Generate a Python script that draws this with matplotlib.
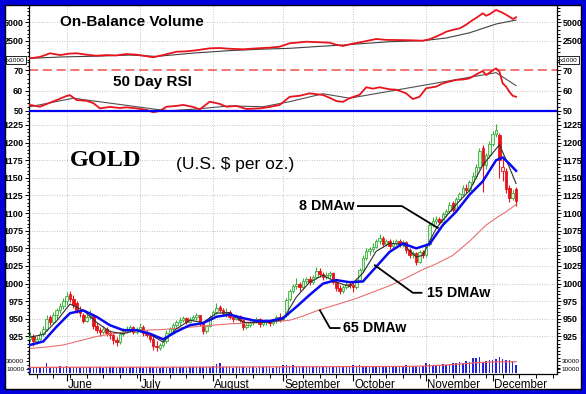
import numpy as np
import matplotlib.pyplot as plt
from matplotlib.patches import Rectangle
from matplotlib.ticker import MultipleLocator
from matplotlib.transforms import blended_transform_factory

W, H = 586, 394
X0, X1 = 29, 557   # left / right frame of the chart, pixels

# ---------------- data (daily bars, mid May - Dec 10) ----------------
opens = [922, 926, 918, 922, 928, 936, 952, 946, 955, 962, 968,
         975, 985, 978, 972, 962, 956, 947, 953, 955, 940, 934, 931, 936, 930, 927, 920, 917, 928, 933, 936, 938, 932,
         935, 939, 930, 927, 922, 912, 909, 913, 918, 930, 935, 941, 945, 948, 951, 946, 950, 952, 955, 944, 933, 940,
         953, 960, 967, 963, 958, 960, 953, 950, 954, 948, 938, 941, 944, 947, 950, 943, 945, 947, 944, 947, 952,
         950, 955, 978, 990, 996, 999, 995, 1004, 1007, 1002, 1009, 1018, 1014, 1010, 1012, 1015, 1003, 994, 990, 995, 999,
         998, 995, 1005, 1019, 1036, 1046, 1049, 1052, 1060, 1065, 1056, 1061, 1053, 1058, 1061, 1055, 1059, 1047, 1040, 1043, 1031, 1045,
         1040, 1056, 1083, 1089, 1092, 1088, 1099, 1103, 1114, 1105, 1120, 1127, 1136, 1133, 1144, 1153, 1166, 1192, 1168, 1182,
         1198, 1212, 1211, 1160, 1160, 1136, 1122, 1134]
highs = [932, 928, 926, 933, 940, 955, 956, 960, 966, 972, 980,
         988, 990, 984, 975, 968, 959, 958, 962, 957, 944, 938, 940, 938, 934, 930, 924, 931, 937, 940, 942, 940, 938,
         944, 941, 934, 929, 925, 918, 916, 921, 934, 938, 944, 948, 952, 954, 953, 953, 955, 958, 956, 946, 942, 956,
         963, 972, 970, 966, 965, 962, 956, 957, 956, 950, 944, 947, 950, 953, 951, 948, 950, 949, 950, 955, 958,
         956, 980, 992, 999, 1008, 1003, 1008, 1010, 1011, 1012, 1024, 1022, 1017, 1016, 1018, 1016, 1006, 998, 998, 1002, 1004,
         1002, 1008, 1022, 1040, 1050, 1052, 1058, 1064, 1071, 1067, 1064, 1063, 1062, 1064, 1063, 1062, 1060, 1050, 1046, 1045, 1048, 1048,
         1058, 1086, 1094, 1096, 1094, 1102, 1106, 1116, 1117, 1123, 1130, 1140, 1142, 1147, 1158, 1170, 1193, 1196, 1185, 1202,
         1216, 1227, 1214, 1178, 1164, 1140, 1133, 1137]
lows = [918, 912, 915, 920, 925, 933, 942, 944, 950, 958, 964,
        970, 974, 966, 958, 952, 944, 945, 950, 936, 930, 926, 928, 926, 922, 914, 911, 915, 925, 930, 932, 928, 929,
        932, 926, 924, 917, 906, 905, 906, 910, 916, 927, 932, 938, 942, 945, 943, 944, 947, 948, 940, 928, 930, 938,
        950, 957, 960, 955, 953, 950, 946, 948, 945, 934, 935, 938, 941, 944, 939, 940, 942, 940, 942, 944, 946,
        947, 953, 975, 986, 993, 990, 993, 1000, 998, 1000, 1006, 1010, 1005, 1006, 1008, 1000, 990, 985, 986, 992, 994,
        988, 992, 1003, 1017, 1033, 1040, 1045, 1050, 1056, 1052, 1053, 1049, 1050, 1055, 1052, 1052, 1044, 1036, 1037, 1026, 1029, 1036,
        1038, 1054, 1080, 1085, 1084, 1086, 1095, 1100, 1101, 1103, 1117, 1124, 1128, 1130, 1141, 1150, 1163, 1130, 1162, 1178,
        1195, 1208, 1150, 1145, 1128, 1116, 1118, 1110]
closes = [926, 918, 922, 928, 935, 950, 946, 955, 962, 968, 975,
          982, 978, 970, 962, 958, 947, 953, 956, 940, 934, 931, 936, 930, 927, 920, 917, 928, 933, 936, 938, 932, 935,
          939, 930, 927, 922, 912, 910, 913, 918, 930, 935, 941, 945, 948, 951, 946, 950, 952, 955, 944, 933, 940, 953,
          960, 966, 963, 958, 960, 953, 950, 954, 948, 938, 941, 944, 947, 950, 943, 945, 947, 944, 947, 952, 950,
          954, 977, 990, 996, 999, 995, 1004, 1007, 1002, 1009, 1018, 1014, 1010, 1012, 1015, 1003, 994, 990, 995, 999, 998,
          995, 1005, 1019, 1036, 1046, 1049, 1052, 1060, 1065, 1056, 1061, 1053, 1058, 1061, 1055, 1059, 1047, 1040, 1043, 1031, 1045, 1040,
          1055, 1083, 1089, 1092, 1088, 1099, 1103, 1112, 1105, 1120, 1127, 1136, 1133, 1144, 1153, 1166, 1188, 1168, 1182, 1198,
          1212, 1218, 1175, 1166, 1134, 1122, 1128, 1117]
# volume in thousands
volume = [14, 15, 13, 16, 15, 24, 16, 14, 15, 17, 16,
          18, 15, 16, 14, 13, 15, 14, 16, 13, 15, 14, 13, 15, 14, 16, 13, 14, 15, 13, 14, 16, 15,
          14, 13, 15, 14, 16, 15, 13, 14, 15, 13, 14, 16, 15, 14, 13, 15, 14, 16, 15, 14, 15, 16,
          17, 23, 24, 16, 15, 14, 13, 15, 14, 15, 13, 14, 15, 13, 14, 16, 15, 14, 13, 15, 16,
          19, 21, 18, 20, 16, 15, 17, 14, 16, 15, 18, 16, 15, 14, 17, 15, 16, 18, 15, 16, 14,
          20, 17, 19, 15, 16, 17, 14, 15, 16, 17, 15, 16, 18, 15, 16, 17, 19, 16, 18, 17, 16, 18,
          24, 22, 20, 19, 21, 23, 20, 22, 25, 24, 27, 26, 30, 28, 38, 37, 39, 28, 30, 33,
          32, 36, 41, 34, 32, 33, 30, 19]

# moving averages (read at selected bars)
ma8_x = [0, 4, 8, 12, 16, 20, 24, 28, 32, 36, 40, 44, 48, 52, 56, 60, 64, 68, 72, 76,
         80, 84, 88, 92, 96, 100, 104, 108, 112, 116, 118, 120, 122, 124, 128, 132, 136, 141, 144, 146]
ma8_y = [924, 928, 947, 971, 962, 945, 932, 929, 934, 928, 917, 936, 948, 945, 958, 959, 945, 945, 945, 949,
         981, 1002, 1012, 1002, 996, 1015, 1046, 1057, 1056, 1038, 1040, 1060, 1078, 1090, 1112, 1132, 1168, 1197, 1165, 1142]
ma15_x = [0, 4, 8, 12, 16, 20, 24, 28, 32, 36, 40, 44, 48, 52, 56, 60, 64, 68, 72, 76,
          80, 84, 88, 92, 96, 100, 104, 108, 112, 116, 120, 124, 128, 132, 136, 140, 142, 144, 146]
ma15_y = [913, 918, 939, 958, 962, 953, 941, 934, 934, 929, 921, 932, 941, 944, 953, 956, 951, 947, 947, 951,
          967, 984, 1000, 1005, 1002, 1003, 1024, 1045, 1057, 1050, 1056, 1083, 1102, 1126, 1145, 1175, 1179, 1170, 1160]
ma65_x = [0, 5, 10, 15, 20, 25, 30, 35, 40, 45, 50, 55, 60, 65, 70, 78, 82, 87, 92, 98,
          103, 108, 113, 118, 122, 127, 132, 137, 140, 143, 146]
ma65_y = [908, 910, 913, 919, 925, 929, 932, 934, 935, 937, 939, 941, 943, 944, 945, 948, 954, 963, 970, 979,
          988, 997, 1008, 1020, 1028, 1040, 1060, 1083, 1093, 1102, 1112]

vol_ma_x = [0, 20, 40, 60, 80, 100, 115, 120, 125, 130, 135, 140, 146]
vol_ma_y = [14, 14.5, 14.5, 15, 15.5, 16, 16.5, 18, 20, 23, 26, 28, 28]

# on-balance volume (x1000) and its average
obv_x = [0, 3, 6, 9, 12, 14, 17, 20, 23, 26, 29, 32, 35, 37, 40, 44, 47, 50, 54, 57,
         60, 64, 68, 72, 75, 78, 80, 83, 86, 90, 92, 94, 96, 100, 104, 107, 110, 114, 118, 120,
         122, 124, 125, 127, 129, 130, 131, 133, 134, 136, 137, 138, 140, 142, 144, 145, 146]
obv_y = [160, 350, 840, 600, 800, 840, 650, 510, 600, 550, 740, 650, 450, 300, 600, 1050, 1100, 1250, 1510, 1550,
         1450, 1380, 1500, 1600, 1730, 2190, 2270, 2400, 2350, 2270, 2000, 1820, 2050, 2400, 2770, 2650, 2630, 2600, 2540, 2730,
         3100, 3500, 3750, 4000, 4200, 4430, 4700, 5330, 5600, 6240, 5910, 6100, 6690, 6300, 5780, 5470, 5700]
obv_ma_x = [0, 10, 20, 30, 38, 50, 60, 70, 78, 88, 94, 100, 108, 118, 125, 132, 140, 146]
obv_ma_y = [160, 350, 450, 600, 420, 900, 1200, 1400, 1510, 1800, 1950, 2150, 2400, 2540, 2900, 3600, 4790, 5330]

# 50 day RSI and its average
rsi_x = [0, 3, 8, 11, 12, 14, 17, 19, 21, 24, 27, 29, 32, 35, 37, 39, 41, 44, 46, 49,
         51, 54, 57, 59, 62, 65, 69, 72, 75, 78, 81, 84, 88, 90, 92, 94, 96, 99, 101, 103,
         105, 108, 110, 113, 115, 117, 119, 122, 124, 126, 128, 130, 132, 134, 136, 137, 139, 140, 141, 142,
         143, 144, 145, 146]
rsi_y = [53, 52.1, 55.4, 57.4, 57.8, 55.4, 55, 53.9, 51.3, 52, 51.5, 51.8, 51.3, 50.5, 49.4, 50, 52.1, 52.5, 53, 52,
         50.8, 54.6, 53.5, 52.1, 52.5, 51, 51.3, 52, 53, 57, 57.5, 58.7, 57.9, 56.5, 54.9, 54.5, 56.3, 58, 61.7, 61,
         61.7, 60.7, 60.5, 58.7, 55.9, 57, 61.2, 62, 63.6, 64.5, 65.3, 65.5, 66.1, 68, 69.7, 67.7, 70, 71, 69.4, 63.6,
         62, 59.5, 57.5, 57]
rsi_ma_x = [0, 13, 38, 42, 50, 60, 70, 78, 88, 96, 140, 146]
rsi_ma_y = [52.1, 56.3, 50.8, 50.1, 51, 52.5, 52.1, 54.6, 58.5, 56.3, 68.9, 62.5]

months = ['June', 'July', 'August', 'September', 'October', 'November', 'December']
month_idx = [11, 33, 55, 76, 97, 119, 139]
price_ticks = list(range(925, 1226, 25))

# ---------------- figure ----------------
plt.rcParams['font.family'] = ['Liberation Sans', 'DejaVu Sans']
fig = plt.figure(figsize=(W / 100, H / 100), dpi=100)


def rect(top, bottom):
    return [X0 / W, 1 - bottom / H, (X1 - X0) / W, (bottom - top) / H]


GRID = dict(color='#b0b0b0', lw=0.6, ls=(0, (1, 2)))


def frame(ax, ticks, labels, size=6.5, grid=True):
    ax.set_facecolor('none')
    ax.set_xlim(-0.3, 158.3)
    for s in ('top', 'bottom'):
        ax.spines[s].set_visible(False)
    for s in ('left', 'right'):
        ax.spines[s].set_linewidth(0.9)
    ax.set_yticks(ticks)
    ax.set_yticklabels(labels, fontweight='bold')
    ax.tick_params(axis='y', which='both', left=True, right=True, labelleft=True,
                   labelright=True, labelsize=size, width=0.7, pad=1.2)
    ax.tick_params(axis='y', which='major', length=3)
    ax.tick_params(axis='y', which='minor', length=1.8)
    ax.tick_params(axis='x', which='both', bottom=False, labelbottom=False)
    if grid:
        for m in month_idx:
            ax.axvline(m, zorder=0, **GRID)


# --- On-Balance Volume ---
ax_o = fig.add_axes(rect(6, 62))
frame(ax_o, [2500, 5000], ['2500', '5000'])
ax_o.set_ylim(-337, 7222)
ax_o.yaxis.set_minor_locator(MultipleLocator(500))
for v in (2500, 5000):
    ax_o.axhline(v, zorder=0, **GRID)
ax_o.plot(obv_ma_x, obv_ma_y, color='#404040', lw=0.8, zorder=3)
ax_o.plot(obv_x, obv_y, color='#e8141c', lw=1.3, zorder=4)

# --- RSI ---
ax_r = fig.add_axes(rect(62, 114))
frame(ax_r, [50, 60, 70], ['50', '60', '70'])
ax_r.set_ylim(48.52, 74.14)
ax_r.yaxis.set_minor_locator(MultipleLocator(2))
ax_r.axhline(60, zorder=0, **GRID)
ax_r.axhline(70, color='#f05050', lw=1.1, ls=(0, (6, 3)), zorder=1)
ax_r.axhline(50, color='#0000ee', lw=1.6, zorder=5)
ax_r.plot(rsi_ma_x, rsi_ma_y, color='#505050', lw=0.8, zorder=3)
ax_r.plot(rsi_x, rsi_y, color='#e8141c', lw=1.3, zorder=4)

# --- Price ---
ax_p = fig.add_axes(rect(114, 374))
frame(ax_p, price_ticks, [str(t) for t in price_ticks])
ax_p.set_ylim(871.8, 1240.6)
ax_p.yaxis.set_minor_locator(MultipleLocator(5))
for t in price_ticks:
    ax_p.axhline(t, zorder=0, **GRID)

o, hi, lo, c = (np.array(a, dtype=float) for a in (opens, highs, lows, closes))
idx = np.arange(len(c))
prev = np.r_[c[0], c[:-1]]
up = c >= prev
hollow = c > o
col = np.where(up, '#3cae3c', '#e8141c')
face = np.where(hollow, np.where(up, '#d6f4d6', '#ffe0e0'), col)
ax_p.vlines(idx, lo, hi, colors=col, lw=0.8, zorder=2)
ax_p.bar(idx, np.maximum(np.abs(c - o), 1.0), bottom=np.minimum(o, c), width=0.75,
         color=face, edgecolor=col, linewidth=0.6, zorder=3)

ax_p.plot(ma65_x, ma65_y, color='#e87070', lw=0.8, zorder=4)
ax_p.plot(ma8_x, ma8_y, color='#303030', lw=0.8, zorder=4)
ax_p.plot(ma15_x, ma15_y, color='#0a0af0', lw=1.8, zorder=5)

# x axis along the bottom
ax_p.spines['bottom'].set_visible(True)
ax_p.spines['bottom'].set_linewidth(0.9)
ax_p.set_xticks(month_idx)
ax_p.set_xticks(np.arange(2, 158, 5), minor=True)
ax_p.tick_params(axis='x', which='major', bottom=True, length=5, width=0.8)
ax_p.tick_params(axis='x', which='minor', bottom=True, length=3, width=0.7)
trans = blended_transform_factory(ax_p.transData, fig.transFigure)
for m, name in zip(month_idx, months):
    ax_p.text(m + 0.4, 1 - 385 / H, name, transform=trans, ha='left', va='center', fontsize=8.3)

# --- Volume (bottom strip of the price panel) ---
ax_v = fig.add_axes(rect(114, 374))
ax_v.set_facecolor('none')
ax_v.set_xlim(-0.3, 158.3)
for s in ax_v.spines.values():
    s.set_visible(False)
ax_v.set_ylim(-2.5, 647.5)
ax_v.set_yticks([10, 30])
ax_v.set_yticklabels(['10000', '30000'])
ax_v.tick_params(axis='y', left=True, right=True, labelleft=True, labelright=True,
                 labelsize=4.6, length=2.5, width=0.6, pad=1)
ax_v.tick_params(axis='x', bottom=False, labelbottom=False)
ax_v.bar(idx, volume, width=0.45, color='#2222dd', zorder=3)
ax_v.plot(vol_ma_x, vol_ma_y, color='#f06060', lw=0.9, zorder=4)

# --- annotations ---
ann = dict(color='black', lw=1.3, zorder=6)
lab = dict(fontsize=10.3, fontweight='bold', va='center')
ax_p.plot([98.5, 111.7, 122.5], [1110, 1110, 1079], **ann)
ax_p.text(97.6, 1110, '8 DMAw', ha='right', **lab)
ax_p.plot([103.6, 115.0, 117.6], [1026, 987, 987], **ann)
ax_p.text(119.2, 987, '15 DMAw', ha='left', **lab)
ax_p.plot([87.1, 90.1, 93.0], [962, 937, 937], **ann)
ax_p.text(94.0, 937, '65 DMAw', ha='left', **lab)

# --- titles ---
fig.text(60 / W, 1 - 22 / H, 'On-Balance Volume', fontsize=11, fontweight='bold', va='center')
fig.text(113 / W, 1 - 82 / H, '50 Day RSI', fontsize=11, fontweight='bold', va='center')
fig.text(70 / W, 1 - 160.5 / H, 'GOLD', fontsize=17.5, fontweight='bold', va='center',
         family=['Liberation Serif', 'DejaVu Serif'])
fig.text(176 / W, 1 - 165 / H, '(U.S. $ per oz.)', fontsize=12.5, va='center')

box = dict(boxstyle='square,pad=0.2', fc='white', ec='black', lw=0.6)
fig.text(16 / W, 1 - 60 / H, 'x1000', fontsize=4.6, ha='center', va='center', bbox=box)
fig.text(560 / W, 1 - 60 / H, 'x1000', fontsize=4.6, ha='left', va='center', bbox=box)

# --- border ---
fig.patches.append(Rectangle((0, 0), 1, 1, transform=fig.transFigure, fill=False,
                             ec='#0000dd', lw=7.2, zorder=10))
fig.patches.append(Rectangle((5 / W, 5 / H), 1 - 10 / W, 1 - 10 / H, transform=fig.transFigure,
                             fill=False, ec='black', lw=1.0, zorder=10))

fig.savefig('out.png', dpi=100)
